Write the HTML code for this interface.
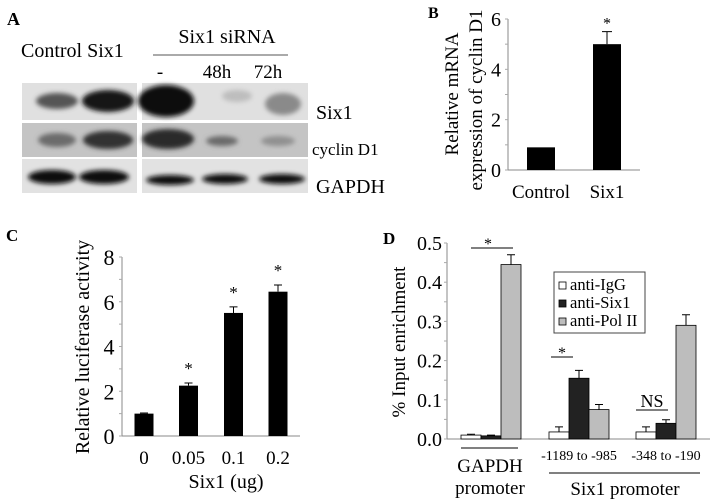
<!DOCTYPE html>
<html><head><meta charset="utf-8">
<style>
html,body{margin:0;padding:0;background:#fff;}
svg{display:block;font-family:"Liberation Serif",serif;}
</style></head>
<body>
<svg id="fig" width="718" height="499" viewBox="0 0 718 499" xmlns="http://www.w3.org/2000/svg">
<defs>
<filter id="blur2" x="-50%" y="-50%" width="200%" height="200%"><feGaussianBlur stdDeviation="2.5"/></filter>
</defs>

<g>
<text x="7" y="25" font-size="18" font-weight="bold">A</text>
<text x="21" y="57" font-size="20">Control Six1</text>
<text x="227" y="43" font-size="20" text-anchor="middle">Six1 siRNA</text>
<line x1="153" y1="55" x2="288" y2="55" stroke="#555" stroke-width="1"/>
<text x="160" y="78" font-size="19" text-anchor="middle">-</text>
<text x="217" y="78" font-size="19" text-anchor="middle">48h</text>
<text x="268" y="78" font-size="19" text-anchor="middle">72h</text>
<g id="blots"></g>
<text x="316" y="119" font-size="20">Six1</text>
<text x="312" y="155" font-size="17">cyclin D1</text>
<text x="316" y="193" font-size="20">GAPDH</text>
</g>

<g id="panelB">
<text x="428" y="18" font-size="16" font-weight="bold">B</text>
<text transform="translate(458,94) rotate(-90)" font-size="19" text-anchor="middle">Relative mRNA</text>
<text transform="translate(482,100) rotate(-90)" font-size="19" text-anchor="middle">expression of  cyclin D1</text>
</g>

<g id="panelC">
<text x="6" y="241" font-size="17" font-weight="bold">C</text>
<text transform="translate(89,347) rotate(-90)" font-size="20" text-anchor="middle">Relative luciferase activity</text>
<text x="226" y="488" font-size="20" text-anchor="middle">Six1 (ug)</text>
</g>

<g id="panelD">
<text x="383" y="244" font-size="17" font-weight="bold">D</text>
<text transform="translate(405,342) rotate(-90)" font-size="19" text-anchor="middle">% Input enrichment</text>
</g>
</svg>
<script>
const bCategories = ["Control", "Six1"];
const bValues = [0.9, 5.0];
const bErrors = [0, 0.5];
const bStars = [false, true];
const bTicks = [0, 2, 4, 6];

const cCategories = ["0", "0.05", "0.1", "0.2"];
const cValues = [1.0, 2.25, 5.5, 6.45];
const cErrors = [0.03, 0.12, 0.27, 0.3];
const cStars = [false, true, true, true];
const cTicks = [0, 2, 4, 6, 8];

const dGroups = ["GAPDH", "-1189 to -985", "-348 to -190"];
const dSeries = ["anti-IgG", "anti-Six1", "anti-Pol II"];
const dIgG = [0.010, 0.018, 0.018];
const dSix1 = [0.008, 0.155, 0.040];
const dPol = [0.445, 0.075, 0.290];
const dIgGErr = [0.002, 0.013, 0.013];
const dSix1Err = [0.002, 0.020, 0.009];
const dPolErr = [0.025, 0.013, 0.027];
const dTicks = ["0.0", "0.1", "0.2", "0.3", "0.4", "0.5"];

const NS = "http://www.w3.org/2000/svg";
function mk(parent, tag, attrs, text) {
  const e = document.createElementNS(NS, tag);
  for (const k in attrs) e.setAttribute(k, attrs[k]);
  if (text !== undefined) e.textContent = text;
  parent.appendChild(e);
  return e;
}

(function () {
  const g = document.getElementById('blots');
  const rows = [[83, 37], [123, 34], [159, 34]];
  const blocks = [[22, 115], [142, 166]];
  const bg = ['#e0e0e0', '#c4c4c4', '#e2e2e2'];
  rows.forEach((r, ri) => blocks.forEach((b, bi) => {
    const rc = mk(g, 'rect', { x: b[0], y: r[0], width: b[1], height: r[1], fill: bg[ri] });
    
    
  }));
  const bands = [
    [57, 101, 21, 8, '#555'], [108, 101, 26, 11, '#151515'],
    [166, 101, 28, 16, '#111'], [237, 96, 15, 6, '#bdbdbd'], [283, 104, 18, 11, '#8a8a8a'],
    [57, 140, 19, 7, '#6c6c6c'], [108, 140, 25, 9, '#333'],
    [168, 139, 26, 10, '#2a2a2a'], [222, 141, 16, 5, '#6a6a6a'], [278, 141, 17, 5, '#909090'],
    [52, 177, 24, 7, '#0c0c0c'], [104, 177, 25, 7, '#0c0c0c'],
    [170, 180, 24, 5, '#0c0c0c'], [225, 179, 23, 5, '#0c0c0c'], [282, 179, 23, 5, '#0c0c0c']
  ];
  bands.forEach(b => {
    const e = mk(g, 'ellipse', { cx: b[0], cy: b[1], rx: b[2], ry: b[3], fill: b[4], filter: 'url(#blur2)' });
    
    
  });
})();

(function () {
  const g = document.getElementById('panelB');
  const x0 = 508, y0 = 170, yMax = 6, yTop = 19;
  const y = v => y0 - (v / yMax) * (y0 - yTop);
  const xc = [541, 607], bw = 28;
  const ax = mk(g, 'path', { d: `M${x0},${yTop}V${y0}H640`, stroke: '#888', fill: 'none', 'stroke-width': 1 });
  
  
  for (let v = 0; v <= yMax; v += 1) {
    const t = mk(g, 'line', { x1: x0 - 3, x2: x0, y1: y(v), y2: y(v), stroke: '#aaa' });
    
    
  }
  bTicks.forEach(v => {
    const t = mk(g, 'text', { x: 496, y: y(v) + 7, 'font-size': 20, 'text-anchor': 'middle' }, String(v));
    
    
  });
  bValues.forEach((v, i) => {
    const r = mk(g, 'rect', { x: xc[i] - bw / 2, y: y(v), width: bw, height: y0 - y(v), fill: '#000' });
    
    
    if (bErrors[i] > 0) {
      const e = mk(g, 'path', { d: `M${xc[i]},${y(v)}V${y(v + bErrors[i])}M${xc[i] - 5},${y(v + bErrors[i])}H${xc[i] + 5}`, stroke: '#000', fill: 'none' });
      
      
    }
    if (bStars[i]) {
      const s = mk(g, 'text', { x: xc[i], y: y(v + bErrors[i]) - 3, 'font-size': 16, 'text-anchor': 'middle' }, '*');
      
      
    }
    const l = mk(g, 'text', { x: xc[i], y: 198, 'font-size': 19, 'text-anchor': 'middle' }, bCategories[i]);
    
    
  });
})();

(function () {
  const g = document.getElementById('panelC');
  const x0 = 122, y0 = 436, yMax = 8, yTop = 257;
  const y = v => y0 - (v / yMax) * (y0 - yTop);
  const xc = [144, 188.5, 233.5, 278], bw = 19;
  const ax = mk(g, 'path', { d: `M${x0},${yTop}V${y0}H300`, stroke: '#888', fill: 'none' });
  
  
  for (let v = 0; v <= yMax; v += 1) {
    const t = mk(g, 'line', { x1: x0 - 3, x2: x0, y1: y(v), y2: y(v), stroke: '#aaa' });
    
    
  }
  cTicks.forEach(v => {
    const t = mk(g, 'text', { x: 109, y: y(v) + 8, 'font-size': 22, 'text-anchor': 'middle' }, String(v));
    
    
  });
  cValues.forEach((v, i) => {
    const r = mk(g, 'rect', { x: xc[i] - bw / 2, y: y(v), width: bw, height: y0 - y(v), fill: '#000' });
    
    
    const ye = y(v + cErrors[i]);
    const e = mk(g, 'path', { d: `M${xc[i]},${y(v)}V${ye}M${xc[i] - 4},${ye}H${xc[i] + 4}`, stroke: '#000', fill: 'none' });
    
    
    if (cStars[i]) {
      const s = mk(g, 'text', { x: xc[i], y: ye - 9, 'font-size': 17, 'text-anchor': 'middle' }, '*');
      
      
    }
    const l = mk(g, 'text', { x: xc[i], y: 464, 'font-size': 19, 'text-anchor': 'middle' }, cCategories[i]);
    
    
  });
})();

(function () {
  const g = document.getElementById('panelD');
  const x0 = 447, y0 = 439, yTop = 243, yMax = 0.5;
  const y = v => y0 - (v / yMax) * (y0 - yTop);
  const groupStart = [461, 549, 636], bw = 20;
  const fills = ['#fff', '#222', '#bdbdbd'];
  const series = [dIgG, dSix1, dPol];
  const errs = [dIgGErr, dSix1Err, dPolErr];
  const ax = mk(g, 'path', { d: `M${x0},${yTop}V${y0}H710`, stroke: '#888', fill: 'none' });
  
  
  for (let k = 0; k <= 10; k++) {
    const v = k * 0.05;
    const t = mk(g, 'line', { x1: x0 - 3, x2: x0, y1: y(v), y2: y(v), stroke: '#aaa' });
    
    
  }
  dTicks.forEach(s => {
    const t = mk(g, 'text', { x: 442, y: y(parseFloat(s)) + 7, 'font-size': 20, 'text-anchor': 'end' }, s);
    
    
  });
  dGroups.forEach((gName, gi) => {
    series.forEach((arr, si) => {
      const v = arr[gi];
      const x = groupStart[gi] + si * bw;
      const r = mk(g, 'rect', { x: x, y: y(v), width: bw, height: y0 - y(v), fill: fills[si], stroke: '#000', 'stroke-width': 0.8 });
      
      
      const xc = x + bw / 2, ye = y(v + errs[si][gi]);
      const e = mk(g, 'path', { d: `M${xc},${y(v)}V${ye}M${xc - 4},${ye}H${xc + 4}`, stroke: '#000', fill: 'none' });
      
      
    });
    if (gi > 0) {
      const l = mk(g, 'text', { x: groupStart[gi] + 30, y: 460, 'font-size': 14, 'text-anchor': 'middle' }, gName);
      
      
    }
  });
  const items = [
    ['line', { x1: 461, x2: 518, y1: 448, y2: 448, stroke: '#000' }, null, 'gapdh-underline'],
    ['text', { x: 490, y: 472, 'font-size': 19, 'text-anchor': 'middle' }, 'GAPDH', 'gapdh-label'],
    ['text', { x: 490, y: 494, 'font-size': 19, 'text-anchor': 'middle' }, 'promoter', 'gapdh-promoter-label'],
    ['line', { x1: 549, x2: 700, y1: 473, y2: 473, stroke: '#000' }, null, 'six1-promoter-line'],
    ['text', { x: 625, y: 495, 'font-size': 19, 'text-anchor': 'middle' }, 'Six1 promoter', 'six1-promoter-label'],
    ['line', { x1: 471, x2: 513, y1: 248, y2: 248, stroke: '#000' }, null, 'sig-line-gapdh'],
    ['text', { x: 488, y: 249, 'font-size': 16, 'text-anchor': 'middle' }, '*', 'sig-star-gapdh'],
    ['line', { x1: 551, x2: 573, y1: 357, y2: 357, stroke: '#000' }, null, 'sig-line-group1'],
    ['text', { x: 562, y: 358, 'font-size': 16, 'text-anchor': 'middle' }, '*', 'sig-star-group1'],
    ['line', { x1: 636, x2: 668, y1: 410, y2: 410, stroke: '#000' }, null, 'ns-line'],
    ['text', { x: 652, y: 407, 'font-size': 18, 'text-anchor': 'middle' }, 'NS', 'ns-label']
  ];
  items.forEach(it => {
    const e = mk(g, it[0], it[1], it[2] === null ? undefined : it[2]);
    
    
  });
  const lg = mk(g, 'g', {});
  
  
  mk(lg, 'rect', { x: 554, y: 272, width: 91, height: 61, fill: '#fff', stroke: '#444' });
  dSeries.forEach((s, i) => {
    const ent = mk(lg, 'g', {});
    
    
    mk(ent, 'rect', { x: 559, y: 282 + i * 18, width: 7, height: 7, fill: fills[i], stroke: '#000', 'stroke-width': 0.8 });
    mk(ent, 'text', { x: 570, y: 290 + i * 18, 'font-size': 16.5 }, s);
  });
})();
</script>
</body></html>
